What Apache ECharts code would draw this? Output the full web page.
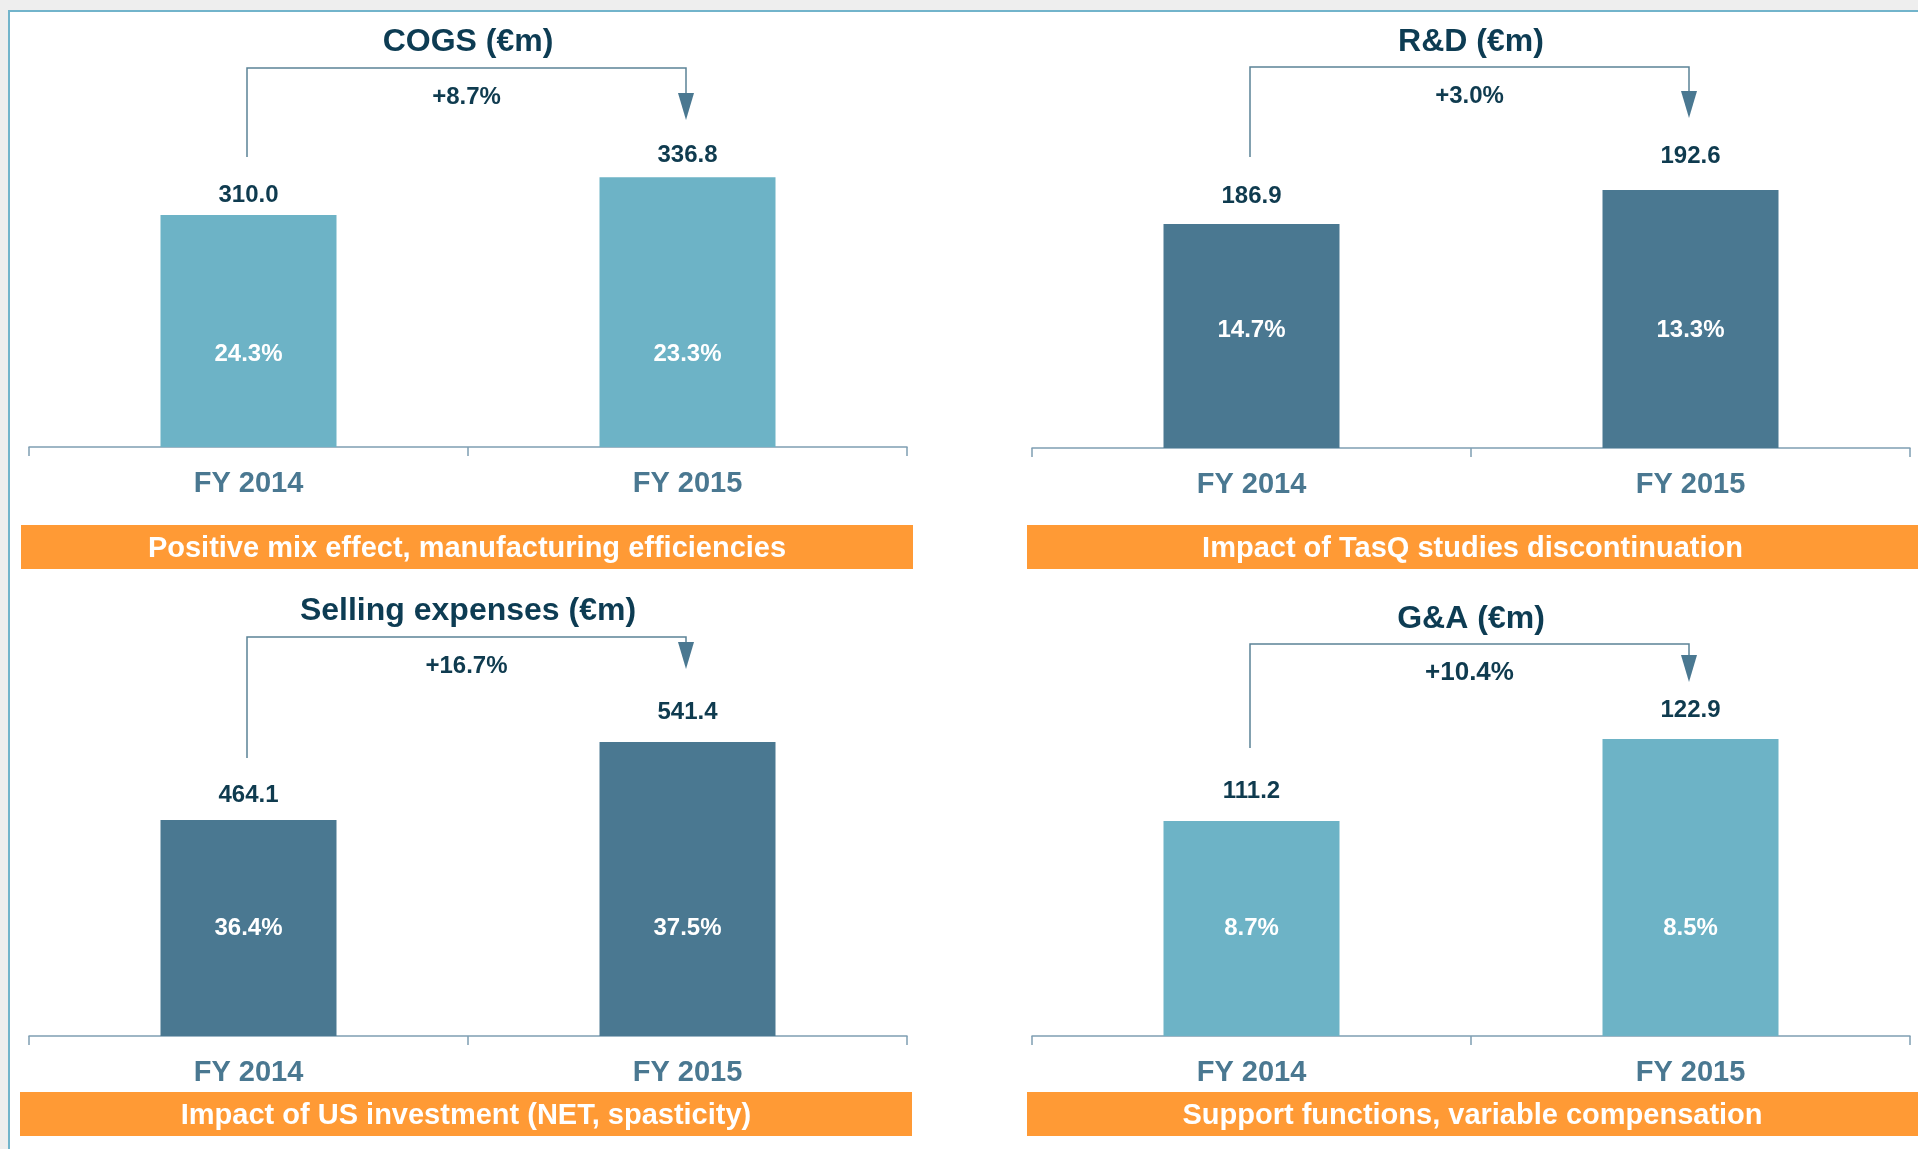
<!DOCTYPE html>
<html>
<head>
<meta charset="utf-8">
<title>Opex FY2014 vs FY2015</title>
<script src="https://cdn.jsdelivr.net/npm/echarts@6/dist/echarts.min.js"></script>
<style>
html, body { margin: 0; padding: 0; background: #eeeeee; }
#container { width: 1918px; height: 1149px; }
</style>
</head>
<body>
<div id="container"></div>
<script>
/* four small bar panels, FY2014 vs FY2015 */
var categories = ['FY 2014', 'FY 2015'];
var panelTitles = ['COGS (€m)', 'R&D (€m)', 'Selling expenses (€m)', 'G&A (€m)'];
var cogsValues = [310.0, 336.8];
var rdValues = [186.9, 192.6];
var sellingValues = [464.1, 541.4];
var gaValues = [111.2, 122.9];
// % of sales, written inside the bars
var cogsShare = [24.3, 23.3];
var rdShare = [14.7, 13.3];
var sellingShare = [36.4, 37.5];
var gaShare = [8.7, 8.5];
var growth = [8.7, 3.0, 16.7, 10.4];
var comments = [
	'Positive mix effect, manufacturing efficiencies',
	'Impact of TasQ studies discontinuation',
	'Impact of US investment (NET, spasticity)',
	'Support functions, variable compensation'
];
var panelValues = [cogsValues, rdValues, sellingValues, gaValues];
var panelShares = [cogsShare, rdShare, sellingShare, gaShare];
var barColors = ['#6db3c6', '#4a7891', '#4a7891', '#6db3c6'];

// layout of each panel (bars on the slide are not drawn from zero)
var layout = [
	{ left: 29, top: 150, height: 297, min: 146, max: 356, titleY: 42, hy: 68, leftEnd: 157, tip: 120, valGap: [8, 10], shareGap: 81, growthSize: 24, box: [21, 525, 892, 44] },
	{ left: 1032, top: 150, height: 298, min: 149.3, max: 199.3, titleY: 42, hy: 67, leftEnd: 157, tip: 118, valGap: [16, 22], shareGap: 106, growthSize: 24, box: [1027, 525, 891, 44] },
	{ left: 29, top: 720, height: 316, min: 250, max: 563.2, titleY: 611, hy: 637, leftEnd: 758, tip: 669, valGap: [13, 18], shareGap: 96, growthSize: 24, box: [20, 1092, 892, 44] },
	{ left: 1032, top: 720, height: 316, min: 80.53, max: 125.61, titleY: 619, hy: 644, leftEnd: 748, tip: 682, valGap: [18, 17], shareGap: 96, growthSize: 26, box: [1027, 1092, 891, 44] }
];
var gridWidth = 878;
var fontName = '"Liberation Sans", Arial, sans-serif';

var dom = document.getElementById('container');
var myChart = echarts.init(dom);

var grids = [], xAxes = [], yAxes = [], series = [];
for (var i = 0; i < 4; i++) {
	var L = layout[i];
	grids.push({ left: L.left, top: L.top, width: gridWidth, height: L.height });
	xAxes.push({
		gridIndex: i,
		type: 'category',
		data: categories,
		axisLine: { lineStyle: { color: '#7f9fb2', width: 1.5 } },
		axisTick: { show: true, length: 9, lineStyle: { color: '#7f9fb2', width: 1.5 } },
		axisLabel: {
			margin: 22,
			color: '#4a7891',
			fontSize: 29,
			fontWeight: 'bold',
			fontFamily: fontName
		}
	});
	yAxes.push({
		gridIndex: i,
		type: 'value',
		min: L.min,
		max: L.max,
		show: false,
		splitLine: { show: false }
	});
	// main bars with the value on top (gap differs a little per bar on the slide)
	var barData = panelValues[i].map(function(v, k) {
		return { value: v, label: { distance: L.valGap[k] } };
	});
	series.push({
		type: 'bar',
		xAxisIndex: i,
		yAxisIndex: i,
		barWidth: 176,
		itemStyle: { color: barColors[i] },
		label: {
			show: true,
			position: 'top',
			color: '#0f3b4f',
			fontSize: 24,
			lineHeight: 24,
			fontWeight: 'bold',
			fontFamily: fontName,
			formatter: function(p) { return p.value.toFixed(1); }
		},
		data: barData
	});
	// transparent copy only for the % label inside
	series.push({
		type: 'bar',
		xAxisIndex: i,
		yAxisIndex: i,
		barWidth: 176,
		barGap: '-100%',
		silent: true,
		itemStyle: { color: 'rgba(0,0,0,0)' },
		label: {
			show: true,
			position: 'insideBottom',
			distance: L.shareGap,
			color: '#ffffff',
			fontSize: 24,
			lineHeight: 24,
			fontWeight: 'bold',
			fontFamily: fontName,
			formatter: (function(shares) {
				return function(p) { return shares[p.dataIndex].toFixed(1) + '%'; };
			})(panelShares[i])
		},
		data: panelValues[i]
	});
}

myChart.setOption({
	animation: false,
	backgroundColor: '#eeeeee',
	grid: grids,
	xAxis: xAxes,
	yAxis: yAxes,
	series: series
});

// titles, growth brackets and orange comment boxes
var graphics = [];
// white slide area with thin blue border
graphics.push({
	type: 'rect',
	z: -10,
	shape: { x: 9, y: 11, width: 1930, height: 1160 },
	style: { fill: '#ffffff', stroke: '#72b4cb', lineWidth: 2 }
});
for (var j = 0; j < 4; j++) {
	var P = layout[j];
	var cx = P.left + gridWidth / 2;
	var p1 = myChart.convertToPixel({ seriesIndex: j * 2 }, [0, panelValues[j][0]]);
	var p2 = myChart.convertToPixel({ seriesIndex: j * 2 }, [1, panelValues[j][1]]);
	var x1 = Math.round(p1[0]) - 2;
	var x2 = Math.round(p2[0]) - 2;

	graphics.push({
		type: 'text',
		style: {
			text: panelTitles[j],
			x: cx,
			y: P.titleY,
			textAlign: 'center',
			textVerticalAlign: 'middle',
			fill: '#0d3c53',
			font: 'bold 32px ' + fontName
		}
	});
	graphics.push({
		type: 'polyline',
		shape: { points: [[x1, P.leftEnd], [x1, P.hy], [x2, P.hy], [x2, P.tip - 26]] },
		style: { stroke: '#5b8397', lineWidth: 1.5, fill: null }
	});
	graphics.push({
		type: 'polygon',
		shape: { points: [[x2 - 8, P.tip - 27], [x2 + 8, P.tip - 27], [x2, P.tip]] },
		style: { fill: '#4a7891' }
	});
	graphics.push({
		type: 'text',
		style: {
			text: '+' + growth[j].toFixed(1) + '%',
			x: (x1 + x2) / 2,
			y: P.hy + 29,
			textAlign: 'center',
			textVerticalAlign: 'middle',
			fill: '#0f3b4f',
			font: 'bold ' + P.growthSize + 'px ' + fontName
		}
	});
	graphics.push({
		type: 'rect',
		shape: { x: P.box[0], y: P.box[1], width: P.box[2], height: P.box[3] },
		style: { fill: '#ff9a35' }
	});
	graphics.push({
		type: 'text',
		style: {
			text: comments[j],
			x: P.box[0] + P.box[2] / 2,
			y: P.box[1] + P.box[3] / 2 + 2,
			textAlign: 'center',
			textVerticalAlign: 'middle',
			fill: '#ffffff',
			font: 'bold 29px ' + fontName
		}
	});
}
myChart.setOption({ graphic: graphics });
</script>
</body>
</html>
